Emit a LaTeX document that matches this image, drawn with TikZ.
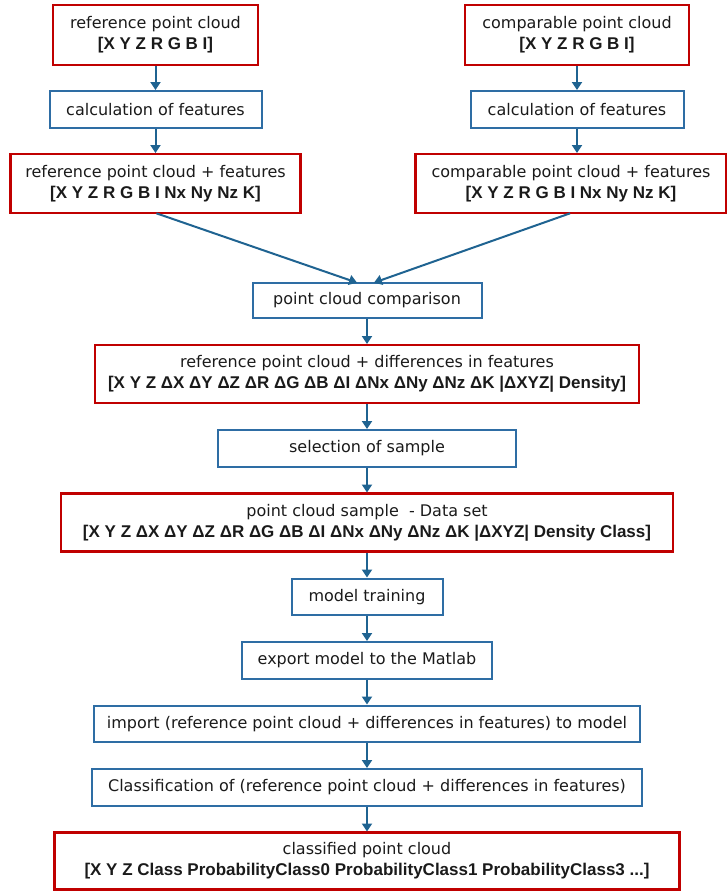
\documentclass[tikz,border=0pt]{standalone}
\usepackage{fontspec}
\setmainfont{DejaVu Sans}
\newfontfamily\lsans{Liberation Sans}
\usepackage{tikz}
\usetikzlibrary{arrows.meta,positioning}

\definecolor{boxred}{HTML}{C00000}
\definecolor{boxblue}{HTML}{2E6DA4}
\definecolor{flowblue}{HTML}{1F6391}
\definecolor{txt}{HTML}{1A1A1A}

\newcommand{\fields}[1]{{\lsans\bfseries\fontsize{17}{21}\selectfont #1}}

\begin{document}
\begin{tikzpicture}[
        x=1pt, y=1pt,
        node distance=27pt,
        font=\fontsize{16}{21}\selectfont, text=txt,
        cloud/.style={rectangle, draw=boxred, line width=2.2pt, minimum height=58pt, align=center, inner sep=0pt, outer sep=0pt},
        stepbox/.style={rectangle, draw=boxblue, line width=2pt, minimum height=36.5pt, align=center, inner sep=0pt, outer sep=0pt},
        flow/.style={-{Triangle[width=10pt,length=8pt]}, line width=2pt, draw=flowblue, shorten >=1pt, shorten <=1pt}
    ]
    \useasboundingbox (0,0) rectangle (727,-892);

    % Input clouds
    \node[cloud, minimum width=205pt, minimum height=60pt] (refpc) at (155.5,-35) {reference point cloud\\\fields{[X Y Z R G B I]}};
    \node[cloud, minimum width=224pt, minimum height=60pt] (comppc) at (577,-35) {comparable point cloud\\\fields{[X Y Z R G B I]}};

    % Features
    \node[stepbox, minimum width=212pt, minimum height=37pt, below=26pt of refpc] (calcref) {calculation of features};
    \node[stepbox, minimum width=213pt, minimum height=37pt, below=26pt of comppc] (calccomp) {calculation of features};
    \node[cloud, minimum width=290pt, minimum height=59pt, below=26pt of calcref] (reffeat) {reference point cloud + features\\\fields{[X Y Z R G B I Nx Ny Nz K]}};
    \node[cloud, minimum width=311pt, minimum height=59pt, below=26pt of calccomp, xshift=-6pt] (compfeat) {comparable point cloud + features\\\fields{[X Y Z R G B I Nx Ny Nz K]}};

    % Comparison and training
    \node[stepbox, minimum width=229pt, minimum height=35pt] (compare) at (367,-300.5) {point cloud comparison};
    \node[cloud, minimum width=544pt, below=of compare] (refdiff) {reference point cloud + differences in features\\\fields{[X Y Z ΔX ΔY ΔZ ΔR ΔG ΔB ΔI ΔNx ΔNy ΔNz ΔK |ΔXYZ| Density]}};
    \node[stepbox, minimum width=298pt, below=of refdiff] (select) {selection of sample};
    \node[cloud, minimum width=612pt, below=of select] (sample) {point cloud sample \ - Data set\\\fields{[X Y Z ΔX ΔY ΔZ ΔR ΔG ΔB ΔI ΔNx ΔNy ΔNz ΔK |ΔXYZ| Density Class]}};
    \node[stepbox, minimum width=151pt, below=of sample] (train) {model training};
    \node[stepbox, minimum width=250pt, below=of train] (export) {export model to the Matlab};
    \node[stepbox, minimum width=546pt, below=of export] (import) {import (reference point cloud + differences in features) to model};
    \node[stepbox, minimum width=550pt, below=of import] (classif) {Classification of (reference point cloud + differences in features)};
    \node[cloud, minimum width=625pt, minimum height=57pt, below=of classif] (classified) {classified point cloud\\\fields{[X Y Z Class ProbabilityClass0 ProbabilityClass1 ProbabilityClass3 ...]}};

    % Flows
    \draw[flow] (refpc) -- (calcref);
    \draw[flow] (calcref) -- (reffeat);
    \draw[flow] (comppc) -- (calccomp);
    \draw[flow] (calccomp) -- (compfeat.north -| calccomp);
    \draw[flow] (reffeat.south) -- ([xshift=-9pt]compare.north);
    \draw[flow] (compfeat.south) -- ([xshift=6pt]compare.north);
    \draw[flow] (compare) -- (refdiff);
    \draw[flow] (refdiff) -- (select);
    \draw[flow] (select) -- (sample);
    \draw[flow] (sample) -- (train);
    \draw[flow] (train) -- (export);
    \draw[flow] (export) -- (import);
    \draw[flow] (import) -- (classif);
    \draw[flow] (classif) -- (classified);

\end{tikzpicture}
\end{document}
